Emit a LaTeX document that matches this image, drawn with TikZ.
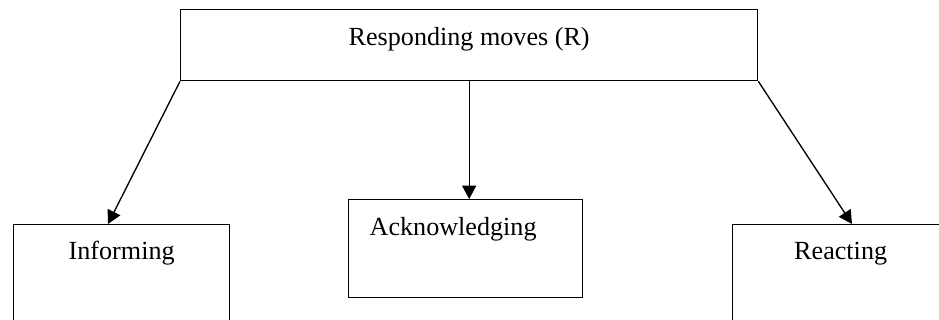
\documentclass[tikz,border=0pt]{standalone}
\usepackage{fontspec}
\setmainfont{Liberation Serif}
\usetikzlibrary{arrows.meta}
\begin{document}
\begin{tikzpicture}[x=0.75pt,y=-0.75pt,
  box/.style={draw,line width=1pt,inner ysep=0pt,font=\fontsize{19.6}{23}\selectfont},
  link/.style={line width=1pt,-{Triangle[length=10pt,width=10.5pt]}}]
  \useasboundingbox (0,0) rectangle (939,320);
  \clip (0,0) rectangle (939,320);
  % parent category
  \node[box,anchor=north west,minimum width=432.75pt,
        text height=27pt,text depth=26.25pt] (resp) at (180,9) {Responding moves (R)};
  % child categories
  \node[box,anchor=north west,minimum width=162pt,
        text height=26.25pt,text depth=60.75pt] (inform) at (13,224) {Informing};
  \node[box,anchor=north west,inner xsep=15.75pt,text width=144pt,align=left,
        text height=27pt,text depth=46.5pt] (ack) at (348,199) {Acknowledging};
  \node[box,anchor=north west,minimum width=162pt,
        text height=26.25pt,text depth=60.75pt] (react) at (732,224) {Reacting};
  % branches
  \draw[link] (resp.south west) -- ([xshift=71.25pt]inform.north west);
  \draw[link] (resp.south) -- (resp.south |- ack.north);
  \draw[link] (resp.south east) -- ([xshift=90pt]react.north west);
\end{tikzpicture}
\end{document}
